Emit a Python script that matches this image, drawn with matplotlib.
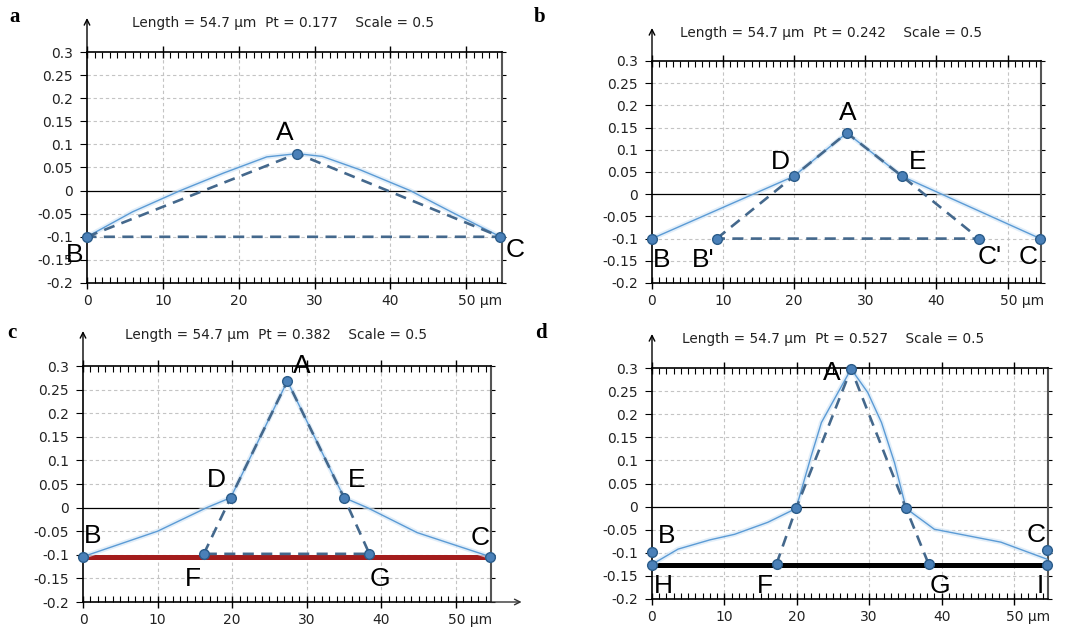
import matplotlib
matplotlib.use("Agg")
import matplotlib.pyplot as plt
import matplotlib.transforms as mt
from matplotlib.ticker import MultipleLocator

W, H = 1070, 632

# ---- data (x in um, y in um) ----
y_ticks = [-0.2, -0.15, -0.1, -0.05, 0, 0.05, 0.1, 0.15, 0.2, 0.25, 0.3]
y_labels = ["-0.2", "-0.15", "-0.1", "-0.05", "0", "0.05", "0.1", "0.15", "0.2", "0.25", "0.3"]
x_ticks = [0, 10, 20, 30, 40, 50]
x_labels = ["0", "10", "20", "30", "40", "50 μm"]
length_um = 54.7
pt_values = [0.177, 0.242, 0.382, 0.527]
panel_names = ["a", "b", "c", "d"]

# panel a
a_prof_x = [0, 6, 12.3, 18, 23.7, 27.7, 31, 36, 42.6, 48, 54.5]
a_prof_y = [-0.1, -0.046, 0.0, 0.038, 0.073, 0.08, 0.074, 0.045, 0.0, -0.046, -0.1]
a_pts = {"B": (0, -0.1), "A": (27.7, 0.08), "C": (54.5, -0.1)}
a_dash = [["B", "A", "C", "B"]]

# panel b
b_prof_x = [0, 19.9, 27.4, 35.2, 54.6]
b_prof_y = [-0.1, 0.04, 0.138, 0.04, -0.1]
b_pts = {"B": (0, -0.1), "B'": (9.1, -0.1), "D": (19.9, 0.04), "A": (27.4, 0.138),
         "E": (35.2, 0.04), "C'": (46.0, -0.1), "C": (54.6, -0.1)}
b_dash = [["B'", "D", "A", "E", "C'", "B'"]]

# panel c
c_prof_x = [0, 10, 16.6, 19.8, 27.4, 35.0, 38.1, 44.8, 54.6]
c_prof_y = [-0.104, -0.05, 0.0, 0.021, 0.268, 0.021, 0.0, -0.053, -0.104]
c_pts = {"B": (0, -0.104), "F": (16.2, -0.098), "D": (19.8, 0.021), "A": (27.4, 0.268),
         "E": (35.0, 0.021), "G": (38.4, -0.098), "C": (54.6, -0.104)}
c_dash = [["F", "D", "A", "E", "G", "F"]]
c_base = ["B", "C"]

# panel d
d_prof_x = [0, 3.6, 8, 11.4, 16, 19.9, 22, 23.4, 25.2, 27.5, 29.8, 31.7, 33.5, 35.1, 39, 43.6, 48.2, 54.6]
d_prof_y = [-0.125, -0.092, -0.072, -0.06, -0.034, -0.004, 0.11, 0.182, 0.233, 0.298, 0.247, 0.182, 0.095,
            -0.004, -0.049, -0.063, -0.077, -0.114]
d_pts = {"B": (0, -0.098), "H": (0, -0.127), "F": (17.2, -0.124), "D": (19.9, -0.004),
         "A": (27.5, 0.298), "E": (35.1, -0.004), "G": (38.2, -0.124), "C": (54.6, -0.095),
         "I": (54.6, -0.127)}
d_dash = [["F", "D", "A", "E", "G"]]
d_base = ["H", "I"]

# ---- layout (pixel boxes of each plot frame: left, right, top, bottom) ----
boxes = [(87, 502, 52, 283), (652, 1041, 61, 283), (83, 491, 366, 602), (652, 1048, 368, 599)]
arrow_top = [18, 28, 331, 334]
title_pos = [(132, 23), (680, 33), (125, 335), (682, 339)]
letter_pos = [(15, 17), (540, 17), (12, 333), (541, 333)]

# label offsets in pixels (dx right, dy down) from each marked point; no label for D/E in d
label_offsets = [
    {"A": (-12, -21), "B": (-12, 18), "C": (15, 13)},
    {"A": (1, -20), "D": (-13, -14), "E": (15, -14), "B": (10, 21), "B'": (-14, 21),
     "C'": (11, 18), "C": (-12, 18)},
    {"A": (14, -15), "D": (-14, -18), "E": (13, -18), "B": (10, -21), "C": (-10, -19),
     "F": (-11, 25), "G": (11, 25)},
    {"A": (-19, 4), "B": (15, -16), "C": (-11, -15), "H": (11, 21), "F": (-12, 22),
     "G": (11, 22), "I": (-7, 21)},
]

panels = [
    (a_prof_x, a_prof_y, a_pts, a_dash, None, None),
    (b_prof_x, b_prof_y, b_pts, b_dash, None, None),
    (c_prof_x, c_prof_y, c_pts, c_dash, c_base, "#a31c1c"),
    (d_prof_x, d_prof_y, d_pts, d_dash, d_base, "black"),
]

PROF = "#5b9bd5"
DASH = "#44688c"
MFACE = "#4a80b8"
MEDGE = "#2b5c8a"

fig = plt.figure(figsize=(W / 100, H / 100), dpi=100)

for i, (px, py, pts, dashes, base, base_col) in enumerate(panels):
    l, r, t, b = boxes[i]
    ax = fig.add_axes([l / W, 1 - b / H, (r - l) / W, (b - t) / H])
    ax.set_xlim(0, length_um)
    ax.set_ylim(-0.2, 0.3)

    # grid
    for xv in x_ticks[1:]:
        ax.axvline(xv, color="#c4c4c4", lw=0.8, dashes=(3, 2.5), zorder=0)
    for yv in y_ticks[1:-1]:
        if yv != 0:
            ax.axhline(yv, color="#c4c4c4", lw=0.8, dashes=(3, 2.5), zorder=0)
    ax.axhline(0, color="black", lw=0.9, zorder=1)

    # base line (c: red, d: black)
    if base is not None:
        bx = [pts[n][0] for n in base]
        by = [pts[n][1] for n in base]
        ax.plot(bx, by, color=base_col, lw=3.6, solid_capstyle="butt", zorder=2)

    # profile with soft halo
    ax.plot(px, py, color="#d6e8f7", lw=3.5, alpha=0.7, zorder=2)
    ax.plot(px, py, color=PROF, lw=1.0, zorder=3)

    # dashed construction lines
    for path in dashes:
        ax.plot([pts[n][0] for n in path], [pts[n][1] for n in path],
                color=DASH, lw=1.9, dashes=(4.2, 2.8), zorder=4)

    # markers
    ax.plot([v[0] for v in pts.values()], [v[1] for v in pts.values()], "o",
            ms=7, mfc=MFACE, mec=MEDGE, mew=1, zorder=5, clip_on=False)

    # point labels
    for name, (dx, dy) in label_offsets[i].items():
        x0, y0 = pts[name]
        ax.annotate(name, xy=(x0, y0), xytext=(dx * 0.72, -dy * 0.72), textcoords="offset points",
                    ha="center", va="center", fontsize=19, family="Liberation Sans",
                    annotation_clip=False, zorder=6)

    # axes styling
    for s in ["left", "top", "bottom"]:
        ax.spines[s].set_color("black")
        ax.spines[s].set_linewidth(1.2)
    ax.spines["right"].set_color("#555555")
    ax.spines["right"].set_linewidth(1.5)

    ax.set_yticks(y_ticks)
    ax.set_yticklabels(y_labels)
    ax.set_xticks(x_ticks)
    ax.set_xticklabels(x_labels)
    ax.xaxis.set_minor_locator(MultipleLocator(1))
    ax.tick_params(axis="x", which="major", direction="inout", length=8, width=1,
                   top=True, bottom=True, labelsize=10, pad=4)
    ax.tick_params(axis="x", which="minor", direction="in", length=4, width=0.8,
                   top=True, bottom=True)
    ax.tick_params(axis="y", which="major", direction="out", length=5, width=0.8,
                   left=True, right=True, labelsize=10, pad=5)
    for tl in ax.yaxis.get_major_ticks():
        tl.tick2line.set_markersize(3)
    for lab in ax.get_xticklabels() + ax.get_yticklabels():
        lab.set_color("#222222")
    last = ax.get_xticklabels()[-1]
    last.set_horizontalalignment("left")
    last.set_transform(last.get_transform() + mt.ScaledTranslation(-8 / 100, 0, fig.dpi_scale_trans))

    # y axis arrow above the frame
    frac = (t - arrow_top[i]) / (b - t)
    ax.annotate("", xy=(0, 1 + frac), xytext=(0, 0.99), xycoords="axes fraction",
                arrowprops=dict(arrowstyle="->", lw=1, color="black", shrinkA=0, shrinkB=0,
                                mutation_scale=10),
                annotation_clip=False)
    if i == 2:
        ax.annotate("", xy=(1.075, 0), xytext=(0.99, 0), xycoords="axes fraction",
                    arrowprops=dict(arrowstyle="->", lw=1, color="#333333", shrinkA=0, shrinkB=0,
                                    mutation_scale=10),
                    annotation_clip=False)

    # header line
    tx, ty = title_pos[i]
    fig.text(tx / W, 1 - ty / H,
             f"Length = {length_um} μm  Pt = {pt_values[i]:.3f}    Scale = 0.5",
             ha="left", va="center", fontsize=9.8, color="#222222")
    lx, ly = letter_pos[i]
    fig.text(lx / W, 1 - ly / H, panel_names[i], ha="center", va="center",
             fontsize=15, fontweight="bold", family="Liberation Serif")

fig.savefig("out.png", dpi=100)
